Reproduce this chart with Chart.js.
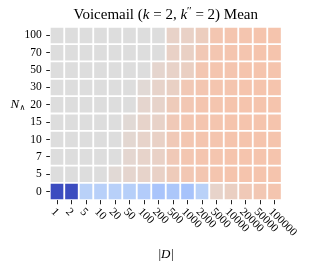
<!DOCTYPE html>
<html><head><meta charset="utf-8">
<script src="https://cdn.jsdelivr.net/npm/chart.js@4/dist/chart.umd.min.js"></script>
<style>html,body{margin:0;padding:0;background:#fff}</style>
</head><body>
<canvas id="c" width="310" height="269"></canvas>
<script>
// Categories
const datasetSizes = ['1','2','5','10','20','50','100','200','500','1000','2000','5000','10000','20000','50000','100000'];
const nLambdaLabels = ['0','5','7','10','15','20','30','50','70','100'];
// Mean values (normalized colormap units, 0.5 = neutral) per N_lambda row
const meanN0   = [0.00,0.00,0.38,0.375,0.375,0.37,0.36,0.33,0.34,0.325,0.38,0.55,0.57,0.60,0.61,0.62];
const meanN5   = [0.5,0.5,0.5,0.5,0.52,0.54,0.55,0.56,0.59,0.61,0.615,0.62,0.625,0.625,0.625,0.625];
const meanN7   = [0.5,0.5,0.5,0.5,0.5,0.535,0.55,0.56,0.60,0.615,0.62,0.62,0.625,0.625,0.625,0.625];
const meanN10  = [0.5,0.5,0.5,0.5,0.5,0.53,0.55,0.56,0.60,0.615,0.62,0.62,0.625,0.625,0.625,0.625];
const meanN15  = [0.5,0.5,0.5,0.5,0.5,0.52,0.55,0.555,0.60,0.615,0.62,0.62,0.625,0.625,0.625,0.625];
const meanN20  = [0.5,0.5,0.5,0.5,0.5,0.5,0.54,0.55,0.59,0.61,0.62,0.62,0.625,0.625,0.625,0.625];
const meanN30  = [0.5,0.5,0.5,0.5,0.5,0.5,0.52,0.55,0.565,0.605,0.615,0.62,0.62,0.625,0.625,0.625];
const meanN50  = [0.5,0.5,0.5,0.5,0.5,0.5,0.5,0.54,0.555,0.57,0.615,0.62,0.62,0.625,0.625,0.625];
const meanN70  = [0.5,0.5,0.5,0.5,0.5,0.5,0.5,0.5,0.56,0.565,0.605,0.615,0.62,0.62,0.625,0.625];
const meanN100 = [0.5,0.5,0.5,0.5,0.5,0.5,0.5,0.5,0.555,0.56,0.58,0.615,0.62,0.62,0.625,0.625];
const rows = [meanN0, meanN5, meanN7, meanN10, meanN15, meanN20, meanN30, meanN50, meanN70, meanN100];

const cw = [[0,59,76,192],[0.125,98,130,234],[0.25,141,176,254],[0.375,184,208,249],[0.5,221,221,221],
            [0.625,245,196,173],[0.75,244,154,123],[0.875,222,96,77],[1,180,4,38]];
function coolwarm(v){
  v = Math.max(0, Math.min(1, v));
  for (let i=0;i<cw.length-1;i++){
    const a=cw[i], b=cw[i+1];
    if (v<=b[0]){
      const t=(v-a[0])/(b[0]-a[0]);
      return 'rgb('+[1,2,3].map(k=>Math.round(a[k]+(b[k]-a[k])*t)).join(',')+')';
    }
  }
  return 'rgb(180,4,38)';
}

const SERIF = '"Liberation Serif","DejaVu Serif",serif';

const datasets = rows.map((vals, r) => ({
  data: vals.map(() => [r, r+1]),
  backgroundColor: vals.map(coolwarm),
  borderColor: '#ffffff',
  borderWidth: 1.25,
  borderSkipped: false,
  grouped: false,
  barPercentage: 1,
  categoryPercentage: 1
}));

const textPlugin = {
  id: 'texts',
  afterDraw(chart){
    const ctx = chart.ctx;
    const xs = chart.scales.x;
    ctx.save();
    ctx.fillStyle = '#000';
    // x tick labels, rotated
    ctx.font = '11.5px ' + SERIF;
    ctx.textAlign = 'left';
    ctx.textBaseline = 'top';
    datasetSizes.forEach((lab, i) => {
      const px = xs.getPixelForValue(i);
      ctx.save();
      ctx.translate(px, 206);
      ctx.rotate(Math.PI/4);
      ctx.fillText(lab, 0, 0);
      ctx.restore();
    });
    // title
    ctx.textBaseline = 'alphabetic';
    const F = 15;
    const segs = [
      ['Voicemail (', F+'px '+SERIF, 0],
      ['k', 'italic '+F+'px '+SERIF, 0],
      [' = 2, ', F+'px '+SERIF, 0],
      ['k', 'italic '+F+'px '+SERIF, 0],
      ['\u2032\u2032', '10.5px '+SERIF, -4.5],
      [' = 2) Mean', F+'px '+SERIF, 0]
    ];
    let total = 0;
    segs.forEach(s => { ctx.font = s[1]; s.w = ctx.measureText(s[0]).width; total += s.w; });
    const cx = (chart.chartArea.left + chart.chartArea.right)/2;
    let x = cx - total/2;
    segs.forEach(s => { ctx.font = s[1]; ctx.fillText(s[0], x, 18.5 + s[2]); x += s.w; });
    // y axis label N_wedge
    ctx.font = 'italic 13px ' + SERIF;
    ctx.fillText('N', 10.5, 107.5);
    ctx.font = '8px ' + SERIF;
    ctx.fillText('\u2227', 19.5, 110);
    // x axis label |D|
    ctx.font = '13px ' + SERIF;
    const p1 = '|', d = 'D';
    const w1 = ctx.measureText(p1).width;
    ctx.font = 'italic 13px ' + SERIF;
    const wd = ctx.measureText(d).width;
    let bx = cx - (2*w1 + wd)/2;
    ctx.font = '13px ' + SERIF; ctx.fillText(p1, bx, 258); bx += w1;
    ctx.font = 'italic 13px ' + SERIF; ctx.fillText(d, bx, 258); bx += wd + 0.5;
    ctx.font = '13px ' + SERIF; ctx.fillText(p1, bx, 258);
    ctx.restore();
  }
};

new Chart(document.getElementById('c'), {
  type: 'bar',
  data: { labels: datasetSizes, datasets },
  options: {
    responsive: false,
    animation: false,
    devicePixelRatio: 1,
    layout: { padding: { top: 26.75, right: 28.25, left: 0, bottom: 0 } },
    plugins: { legend: { display: false }, tooltip: { enabled: false }, title: { display: false } },
    scales: {
      x: {
        type: 'category',
        offset: true,
        grid: { display: true, drawOnChartArea: false, drawTicks: true, tickLength: 4, tickColor: '#222', offset: false, lineWidth: 1 },
        border: { display: false },
        ticks: { display: false },
        afterFit(s){ s.height = 68.75; }
      },
      y: {
        type: 'linear',
        min: 0, max: 10,
        grid: { display: true, drawOnChartArea: false, drawTicks: true, tickLength: 3.5, tickColor: '#222', lineWidth: 1 },
        border: { display: false },
        afterBuildTicks(s){ s.ticks = nLambdaLabels.map((_, i) => ({ value: i + 0.5 })); },
        ticks: {
          callback: (v, i) => nLambdaLabels[i],
          color: '#000',
          padding: 4.5,
          font: { family: SERIF, size: 11.5 }
        },
        afterFit(s){ s.width = 49.75; }
      }
    }
  },
  plugins: [textPlugin]
});
</script>
</body></html>
